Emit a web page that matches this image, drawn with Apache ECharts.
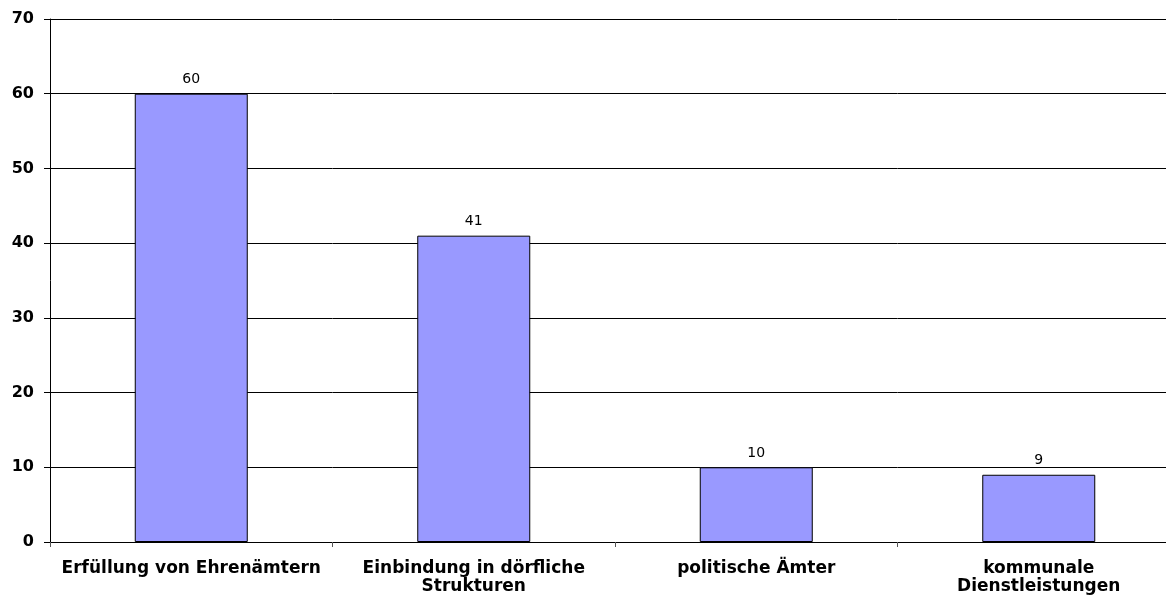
<!DOCTYPE html>
<html>
<head>
<meta charset="utf-8">
<script src="https://cdn.jsdelivr.net/npm/echarts@6/dist/echarts.min.js"></script>
<style>
html,body{margin:0;padding:0;background:#fff;overflow:hidden;width:1166px;height:596px;}
#c{width:1180px;height:596px;}
</style>
</head>
<body>
<div id="c"></div>
<script>
const categories = ["Erfüllung von Ehrenämtern", "Einbindung in dörfliche\nStrukturen", "politische Ämter", "kommunale\nDienstleistungen"];
const values = [60, 41, 10, 9];
const yTicks = [0, 10, 20, 30, 40, 50, 60, 70];

const chart = echarts.init(document.getElementById('c'), null, {renderer: 'canvas'});
chart.setOption({
  animation: false,
  backgroundColor: '#fff',
  grid: {left: 50, right: 0, top: 19, bottom: 54, containLabel: false},
  xAxis: {
    type: 'category',
    data: categories,
    axisLine: {show: true, lineStyle: {color: '#000', width: 1}},
    axisTick: {show: true, alignWithLabel: false, length: 5, lineStyle: {color: '#555'}},
    axisLabel: {
      interval: 0,
      margin: 18,
      color: '#000',
      fontFamily: 'DejaVu Sans',
      fontWeight: 'bold',
      fontSize: 17,
      lineHeight: 18
    }
  },
  yAxis: {
    type: 'value',
    min: yTicks[0],
    max: yTicks[yTicks.length - 1],
    interval: 10,
    axisLine: {show: true, lineStyle: {color: '#000', width: 1}},
    axisTick: {show: true, length: 6, lineStyle: {color: '#000'}},
    splitLine: {show: true, lineStyle: {color: '#000', width: 1}},
    axisLabel: {
      margin: 16,
      color: '#000',
      fontFamily: 'DejaVu Sans',
      fontWeight: 'bold',
      fontSize: 16
    }
  },
  series: [{
    type: 'bar',
    data: values,
    barWidth: '40%',
    itemStyle: {color: '#9999FF', borderColor: '#000', borderWidth: 1},
    label: {
      show: true,
      position: 'top',
      distance: 7,
      color: '#000',
      fontFamily: 'DejaVu Sans',
      fontSize: 14
    }
  }]
});
</script>
</body>
</html>
